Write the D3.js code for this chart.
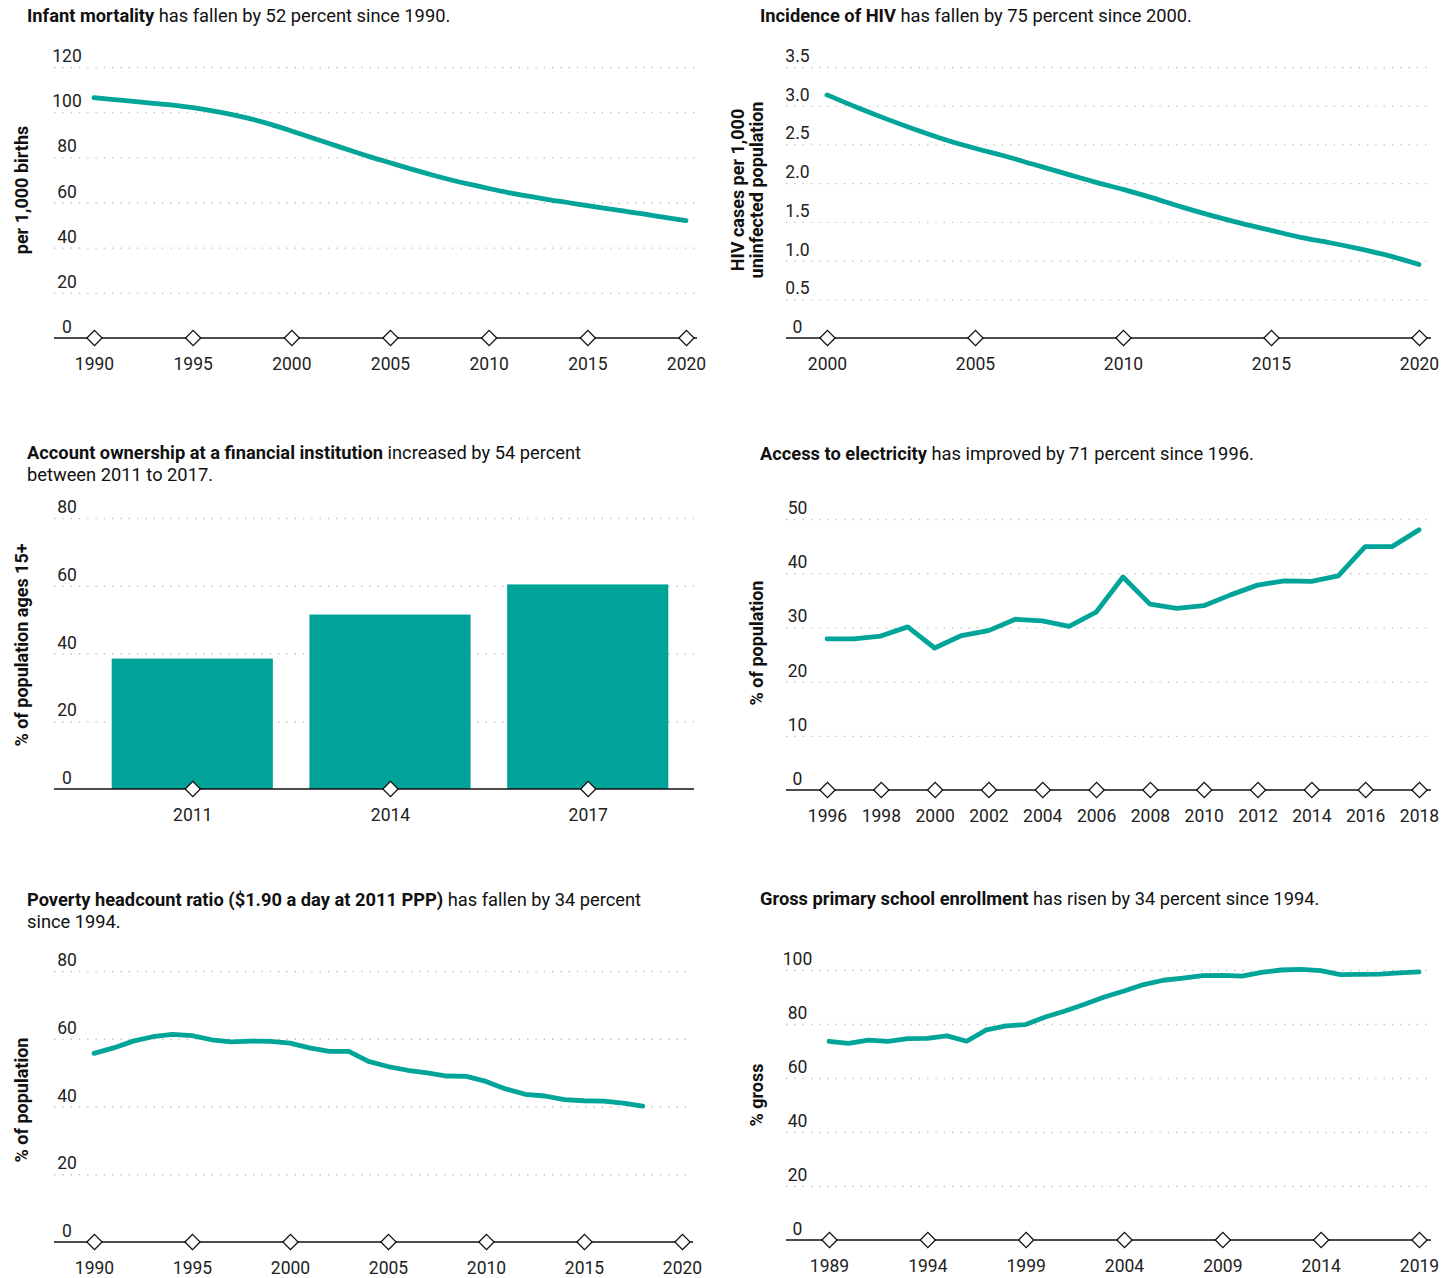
<!DOCTYPE html>
<html><head><meta charset="utf-8">
<script src="https://cdn.jsdelivr.net/npm/d3@7"></script>
<style>
body{margin:0;background:#fff;}
svg{display:block;font-family:Roboto, "Noto Sans", sans-serif;}
</style></head><body>
<svg id="c" width="1454" height="1278"></svg>
<script>
// ---------- DATA ----------
const infantYears = [1990,1991,1992,1993,1994,1995,1996,1997,1998,1999,2000,2001,2002,2003,2004,2005,2006,2007,2008,2009,2010,2011,2012,2013,2014,2015,2016,2017,2018,2019,2020];
const infantValues = [106.4,105.6,104.8,103.9,103.1,102.0,100.6,98.9,96.9,94.5,91.7,88.8,85.9,83.0,80.2,77.6,75.0,72.5,70.2,68.1,66.2,64.4,62.8,61.3,60.0,58.6,57.3,56.0,54.7,53.3,52.0];
const infantXTicks = [1990,1995,2000,2005,2010,2015,2020];
const infantYTicks = [0,20,40,60,80,100,120];

const hivYears = [2000,2001,2002,2003,2004,2005,2006,2007,2008,2009,2010,2011,2012,2013,2014,2015,2016,2017,2018,2019,2020];
const hivValues = [3.14,2.98,2.83,2.69,2.56,2.45,2.35,2.24,2.13,2.02,1.92,1.81,1.69,1.58,1.48,1.39,1.30,1.23,1.15,1.06,0.95];
const hivXTicks = [2000,2005,2010,2015,2020];
const hivYTicks = [0,0.5,1.0,1.5,2.0,2.5,3.0,3.5];

const accountYears = ["2011","2014","2017"];
const accountValues = [38.5,51.5,60.4];
const accountYTicks = [0,20,40,60,80];

const elecYears = [1996,1997,1998,1999,2000,2001,2002,2003,2004,2005,2006,2007,2008,2009,2010,2011,2012,2013,2014,2015,2016,2017,2018];
const elecValues = [27.9,27.9,28.4,30.1,26.2,28.5,29.4,31.5,31.2,30.2,32.8,39.3,34.3,33.5,34.0,36.0,37.8,38.6,38.5,39.5,44.9,44.9,48.0];
const elecXTicks = [1996,1998,2000,2002,2004,2006,2008,2010,2012,2014,2016,2018];
const elecYTicks = [0,10,20,30,40,50];

const povYears = [1990,1991,1992,1993,1994,1995,1996,1997,1998,1999,2000,2001,2002,2003,2004,2005,2006,2007,2008,2009,2010,2011,2012,2013,2014,2015,2016,2017,2018];
const povValues = [55.7,57.3,59.3,60.6,61.3,60.9,59.7,59.1,59.3,59.2,58.7,57.3,56.3,56.3,53.3,51.8,50.7,49.9,49.0,48.9,47.4,45.2,43.6,43.1,42.0,41.7,41.6,41.0,40.1];
const povXTicks = [1990,1995,2000,2005,2010,2015,2020];
const povYTicks = [0,20,40,60,80];

const schoolYears = [1989,1990,1991,1992,1993,1994,1995,1996,1997,1998,1999,2000,2001,2002,2003,2004,2005,2006,2007,2008,2009,2010,2011,2012,2013,2014,2015,2016,2017,2018,2019];
const schoolValues = [73.6,72.8,74.0,73.6,74.6,74.7,75.6,73.6,77.8,79.3,79.8,82.6,84.8,87.3,90.0,92.2,94.6,96.2,97.0,97.9,98.0,97.7,99.1,100.0,100.2,99.8,98.3,98.4,98.5,98.9,99.3];
const schoolXTicks = [1989,1994,1999,2004,2009,2014,2019];
const schoolYTicks = [0,20,40,60,80,100];

// ---------- STYLE ----------
const TEAL = "#00A499";
const svg = d3.select("#c");

function drawTitle(x, y0, lines){
  lines.forEach((parts, i) => {
    const t = svg.append("text").attr("x", x).attr("y", y0 + i*22)
      .attr("font-size", 18.3).attr("fill", "#111");
    parts.forEach(p => {
      t.append("tspan").attr("font-weight", p.b ? 700 : 400).text(p.b || p.t);
    });
  });
}

function drawAxisTitle(xs, cy, lines){
  lines.forEach((s, i) => {
    svg.append("text")
      .attr("transform", `translate(${xs[i]},${cy}) rotate(-90)`)
      .attr("text-anchor", "middle").attr("dy", "0.35em")
      .attr("font-size", 18).attr("font-weight", 700).attr("fill", "#111")
      .text(s);
  });
}

function yGrid(y, c, ticks, fmt){
  const w = c.axisR - c.axisL;
  const g = svg.append("g").attr("transform", `translate(${c.axisL},0)`)
    .call(d3.axisRight(y).tickValues(ticks).tickSize(w).tickFormat(fmt));
  g.select(".domain").remove();
  g.selectAll(".tick line")
    .attr("stroke", "#bdbdbd").attr("stroke-width", 1.3)
    .attr("stroke-dasharray", "1.3,7")
    .attr("display", d => d === 0 ? "none" : null);
  g.selectAll(".tick text")
    .attr("x", c.labelX - c.axisL).attr("dy", -5.5)
    .attr("text-anchor", "middle")
    .attr("font-size", 17.5).attr("font-family", "Roboto").attr("fill", "#222");
}

function baseAxis(x, c, ticks){
  svg.append("line").attr("x1", c.axisL).attr("x2", c.axisR)
    .attr("y1", c.base).attr("y2", c.base).attr("stroke", "#111").attr("stroke-width", 1.4);
  const g = svg.append("g").attr("transform", `translate(0,${c.base})`)
    .call(d3.axisBottom(x).tickValues(ticks).tickSize(0).tickPadding(20).tickFormat(d => String(d)));
  g.select(".domain").remove();
  g.selectAll(".tick text").attr("font-size", 17.5).attr("font-family", "Roboto").attr("fill", "#222");
  const sym = d3.symbol().type(d3.symbolSquare).size(115);
  g.selectAll(".tick").append("path").attr("d", sym())
    .attr("transform", "rotate(45)")
    .attr("fill", "#fff").attr("stroke", "#111").attr("stroke-width", 1.3);
}

function linePanel(c){
  const x = d3.scaleLinear().domain(c.xDomain).range(c.xRange);
  const y = d3.scaleLinear().domain(c.yDomain).range([c.base, c.top]);
  yGrid(y, c, c.yTicks, c.fmt);
  const line = d3.line().x((d,i) => x(c.years[i])).y(d => y(d))
    .curve(c.smooth ? d3.curveMonotoneX : d3.curveLinear);
  svg.append("path").datum(c.values).attr("d", line)
    .attr("fill", "none").attr("stroke", TEAL).attr("stroke-width", 4.8)
    .attr("stroke-linejoin", "round").attr("stroke-linecap", "round");
  baseAxis(x, c, c.xTicks);
  drawTitle(c.titleX, c.titleY, c.title);
  drawAxisTitle(c.atX, c.atY, c.axisTitle);
}

// Panel 1: infant mortality
linePanel({
  xDomain:[1990,2020], xRange:[94,686], yDomain:[0,120], base:338, top:67,
  axisL:54, axisR:697, labelX:67,
  years:infantYears, values:infantValues, xTicks:infantXTicks, yTicks:infantYTicks,
  fmt:d => String(d), smooth:true,
  titleX:27, titleY:22, title:[[{b:"Infant mortality"},{t:" has fallen by 52 percent since 1990."}]],
  atX:[22], atY:190, axisTitle:["per 1,000 births"]
});

// Panel 2: HIV
linePanel({
  xDomain:[2000,2020], xRange:[827,1419], yDomain:[0,3.5], base:338, top:67,
  axisL:786, axisR:1431, labelX:797.5,
  years:hivYears, values:hivValues, xTicks:hivXTicks, yTicks:hivYTicks,
  fmt:d => d === 0 ? "0" : d3.format(".1f")(d), smooth:true,
  titleX:760, titleY:22, title:[[{b:"Incidence of HIV"},{t:" has fallen by 75 percent since 2000."}]],
  atX:[738,757], atY:190, axisTitle:["HIV cases per 1,000","uninfected population"]
});

// Panel 3: account ownership (bars)
(function(){
  const c = {axisL:54, axisR:694, base:789, top:518, labelX:67};
  const x = d3.scaleBand().domain(accountYears).range([86,694]).paddingInner(0.185).paddingOuter(0.13);
  const y = d3.scaleLinear().domain([0,80]).range([c.base, c.top]);
  yGrid(y, c, accountYTicks, d => String(d));
  svg.append("g").selectAll("rect").data(accountValues).join("rect")
    .attr("x", (d,i) => x(accountYears[i])).attr("width", x.bandwidth())
    .attr("y", d => y(d)).attr("height", d => c.base - y(d)).attr("fill", "#00A398");
  const xc = d3.scalePoint().domain(accountYears).range([x(accountYears[0]) + x.bandwidth()/2, x(accountYears[2]) + x.bandwidth()/2]);
  baseAxis(xc, c, accountYears);
  drawTitle(27, 459, [[{b:"Account ownership at a financial institution"},{t:" increased by 54 percent"}],[{t:"between 2011 to 2017."}]]);
  drawAxisTitle([22], 645, ["% of population ages 15+"]);
})();

// Panel 4: electricity
linePanel({
  xDomain:[1996,2018], xRange:[827,1419], yDomain:[0,50], base:790, top:519,
  axisL:786, axisR:1431, labelX:797.5,
  years:elecYears, values:elecValues, xTicks:elecXTicks, yTicks:elecYTicks,
  fmt:d => String(d), smooth:false,
  titleX:760, titleY:460, title:[[{b:"Access to electricity"},{t:" has improved by 71 percent since 1996."}]],
  atX:[757], atY:643, axisTitle:["% of population"]
});

// Panel 5: poverty
linePanel({
  xDomain:[1990,2020], xRange:[94,682], yDomain:[0,80], base:1242, top:971,
  axisL:54, axisR:693, labelX:67,
  years:povYears, values:povValues, xTicks:povXTicks, yTicks:povYTicks,
  fmt:d => String(d), smooth:false,
  titleX:27, titleY:906, title:[[{b:"Poverty headcount ratio ($1.90 a day at 2011 PPP)"},{t:" has fallen by 34 percent"}],[{t:"since 1994."}]],
  atX:[22], atY:1100, axisTitle:["% of population"]
});

// Panel 6: school enrollment
linePanel({
  xDomain:[1989,2019], xRange:[829,1419], yDomain:[0,100], base:1240, top:970,
  axisL:786, axisR:1431, labelX:797.5,
  years:schoolYears, values:schoolValues, xTicks:schoolXTicks, yTicks:schoolYTicks,
  fmt:d => String(d), smooth:false,
  titleX:760, titleY:905, title:[[{b:"Gross primary school enrollment"},{t:" has risen by 34 percent since 1994."}]],
  atX:[757], atY:1095, axisTitle:["% gross"]
});
</script>
</body></html>
